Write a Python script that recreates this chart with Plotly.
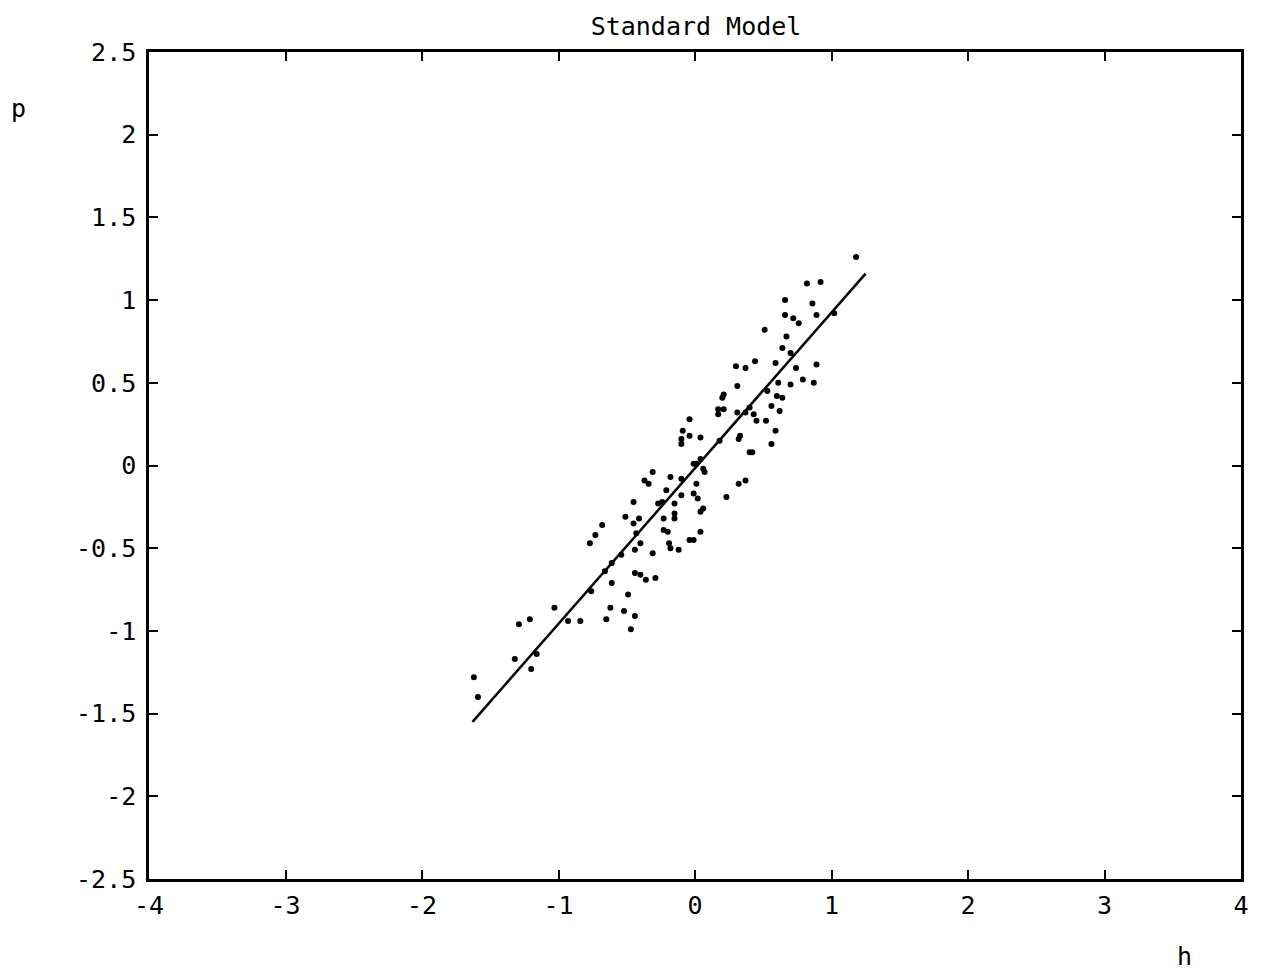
import plotly.graph_objects as go

h_vals = [1.18, 0.82, 0.92, 0.66, 0.86, 0.89, 0.66, 0.72, 0.76, 0.51, 0.67, 0.64, 0.70, 1.02,
          0.44, 0.30, 0.37, 0.59, 0.74, 0.89, 0.79, 0.87, 0.70, 0.61, 0.31, 0.53, 0.21, 0.20,
          0.60, 0.64, 0.56, 0.62, 0.40, 0.31, 0.17, 0.21, 0.17, 0.43, 0.37, 0.45, 0.52, -0.04,
          0.59, -0.09, -0.04, 0.04, -0.10, -0.10, 0.33, 0.32, 0.18, 0.56, 0.40, 0.42, 0.06,
          -0.01, 0.01, 0.04, 0.07, -0.10, -0.18, -0.21, -0.10, 0.01, -0.01, 0.02, -0.15, -0.23,
          -0.15, -0.15, 0.06, 0.04, -0.23, -0.20, 0.04, 0.32, 0.37, 0.23, -0.04, -0.01, -0.19,
          -0.18, -0.12, -0.31, -0.37, -0.34, -0.27, -0.24, -0.45, -0.51, -0.45, -0.41, -0.43,
          -0.40, -0.44, -0.31, -0.68, -0.73, -0.77, -0.54, -0.61, -0.66, -0.44, -0.40, -0.36,
          -0.29, -0.61, -0.76, -0.49, -0.62, -0.52, -0.44, -0.65, -0.47, -1.03, -1.21, -1.29,
          -0.93, -0.84, -1.32, -1.16, -1.20, -1.62, -1.59]
p_vals = [1.26, 1.10, 1.11, 1.00, 0.98, 0.91, 0.91, 0.89, 0.86, 0.82, 0.78, 0.71, 0.68, 0.92,
          0.63, 0.60, 0.59, 0.62, 0.59, 0.61, 0.52, 0.50, 0.49, 0.50, 0.48, 0.45, 0.43, 0.41,
          0.42, 0.41, 0.36, 0.33, 0.35, 0.32, 0.34, 0.34, 0.31, 0.31, 0.32, 0.27, 0.27, 0.28,
          0.21, 0.21, 0.18, 0.17, 0.16, 0.13, 0.18, 0.16, 0.15, 0.13, 0.08, 0.08, -0.02,
          0.01, 0.01, 0.04, -0.04, -0.08, -0.07, -0.15, -0.18, -0.11, -0.17, -0.20, -0.23, -0.32,
          -0.29, -0.32, -0.26, -0.28, -0.39, -0.40, -0.40, -0.11, -0.09, -0.19, -0.45, -0.45, -0.47,
          -0.50, -0.51, -0.04, -0.09, -0.11, -0.23, -0.22, -0.22, -0.31, -0.35, -0.32, -0.41,
          -0.47, -0.51, -0.53, -0.36, -0.42, -0.47, -0.54, -0.59, -0.64, -0.65, -0.66, -0.69,
          -0.68, -0.71, -0.76, -0.78, -0.86, -0.88, -0.91, -0.93, -0.99, -0.86, -0.93, -0.96,
          -0.94, -0.94, -1.17, -1.14, -1.23, -1.28, -1.40]

fit_h = [-1.63, 1.25]
fit_p = [-1.55, 1.16]

x_ticks = [-4, -3, -2, -1, 0, 1, 2, 3, 4]
x_ticklabels = ["-4", "-3", "-2", "-1", "0", "1", "2", "3", "4"]
y_ticks = [-2.5, -2, -1.5, -1, -0.5, 0, 0.5, 1, 1.5, 2, 2.5]
y_ticklabels = ["-2.5", "-2", "-1.5", "-1", "-0.5", "0", "0.5", "1", "1.5", "2", "2.5"]

FONT = "DejaVu Sans Mono"
FS = 25
W, H = 1262, 972
OFF = 7  # page offset of the plot div
L, R, T, B = 141, 29, 44, 101
w_plot = W - L - R
h_plot = H - T - B


def px_to_paper(px, py):
    return (px - OFF - L) / w_plot, (H - B - (py - OFF)) / h_plot


fig = go.Figure()
fig.add_trace(go.Scatter(x=h_vals, y=p_vals, mode="markers",
                         marker=dict(size=6, color="black"), showlegend=False))
fig.add_trace(go.Scatter(x=fit_h, y=fit_p, mode="lines",
                         line=dict(color="black", width=2.5), showlegend=False))

px_p = px_to_paper(17, 108)
px_h = px_to_paper(1183, 955)

fig.update_layout(
    width=W, height=H,
    paper_bgcolor="white", plot_bgcolor="white",
    margin=dict(l=L, r=R, t=T, b=B),
    font=dict(family=FONT, size=FS, color="black"),
    title=dict(text="Standard Model", x=(695 - OFF) / W, xanchor="center",
               y=1 - (25 - OFF) / H, yanchor="middle",
               font=dict(family=FONT, size=FS, color="black")),
    annotations=[
        dict(text="p", x=px_p[0], y=px_p[1], xref="paper", yref="paper", showarrow=False,
             xanchor="center", yanchor="middle", font=dict(family=FONT, size=FS)),
        dict(text="h", x=px_h[0], y=px_h[1], xref="paper", yref="paper", showarrow=False,
             xanchor="center", yanchor="middle", font=dict(family=FONT, size=FS)),
    ],
)

fig.update_xaxes(range=[-4, 4], tickvals=x_ticks, ticktext=x_ticklabels,
                 ticks="inside", ticklen=9, tickcolor="black", tickwidth=1.5,
                 showline=True, linecolor="black", linewidth=2.5, mirror="ticks",
                 showgrid=False, zeroline=False, ticklabelstandoff=2)
fig.update_yaxes(range=[-2.5, 2.5], tickvals=y_ticks, ticktext=y_ticklabels,
                 ticks="inside", ticklen=9, tickcolor="black", tickwidth=1.5,
                 showline=True, linecolor="black", linewidth=2.5, mirror="ticks",
                 showgrid=False, zeroline=False, ticklabelstandoff=5)

fig.write_html("out.html")
